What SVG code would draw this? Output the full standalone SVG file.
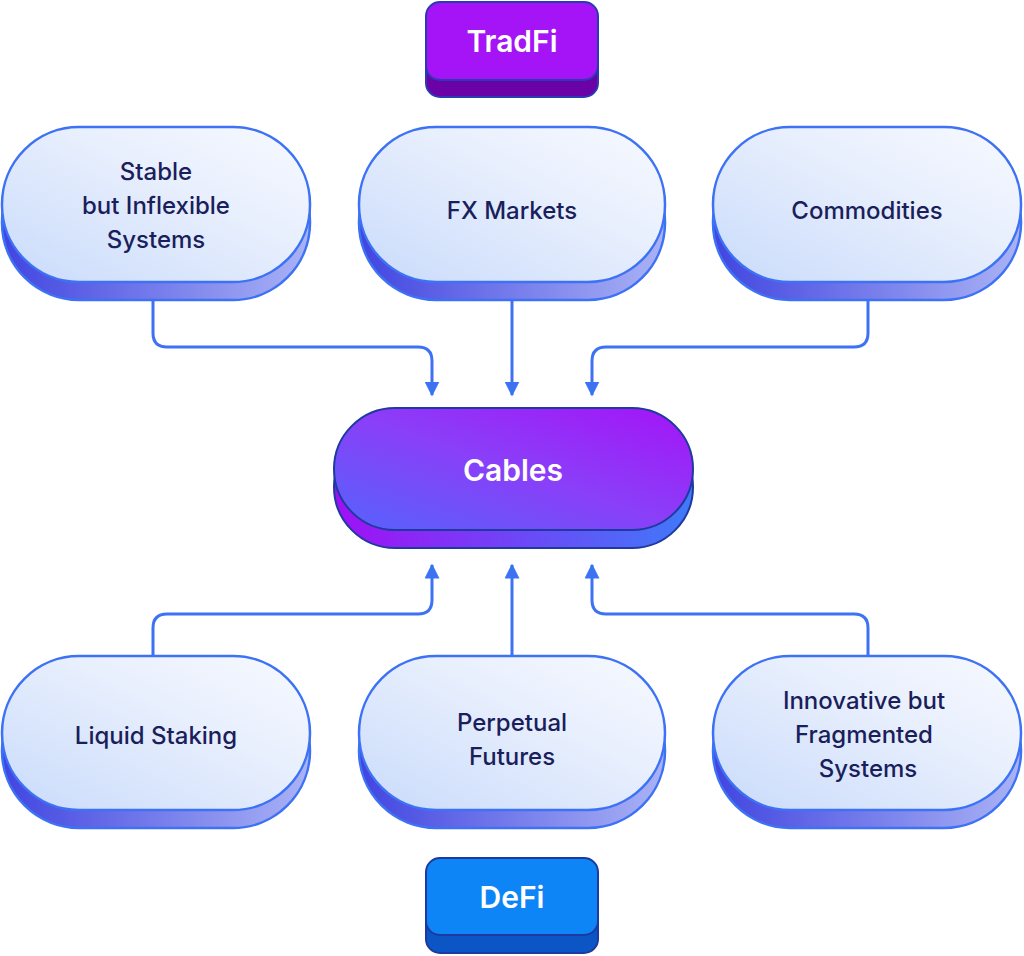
<svg xmlns="http://www.w3.org/2000/svg" width="1024" height="956" viewBox="0 0 1024 956">
<defs>
<linearGradient id="face" x1="0" y1="1" x2="1" y2="0"><stop offset="0" stop-color="#c9dbfb"/><stop offset="0.6" stop-color="#e8effd"/><stop offset="1" stop-color="#f7f9ff"/></linearGradient>
<linearGradient id="base" x1="0" y1="0" x2="1" y2="0"><stop offset="0" stop-color="#4145e0"/><stop offset="1" stop-color="#aab3f5"/></linearGradient>
<linearGradient id="cface" x1="0" y1="1" x2="1" y2="0"><stop offset="0" stop-color="#5563fb"/><stop offset="0.5" stop-color="#8a3ff8"/><stop offset="1" stop-color="#a414f7"/></linearGradient>
<linearGradient id="cbase" x1="0" y1="0" x2="1" y2="0"><stop offset="0" stop-color="#a010f5"/><stop offset="1" stop-color="#3f7af8"/></linearGradient>
<marker id="ah" viewBox="0 0 10 10" refX="9" refY="5" markerWidth="5" markerHeight="5" orient="auto"><path d="M0,0 L10,5 L0,10 z" fill="#3d72f5"/></marker>
<style>
.f{fill:url(#face);stroke:#3d72f5;stroke-width:2.5}
.b{fill:url(#base);stroke:#3d72f5;stroke-width:2.5}
.t{font-family:Inter,"Liberation Sans",sans-serif;font-size:24px;fill:#1a1f5c;text-anchor:middle;font-weight:500}
.w{font-family:Inter,"Liberation Sans",sans-serif;font-size:30px;fill:#fff;text-anchor:middle;font-weight:600}
.c{fill:none;stroke:#3d72f5;stroke-width:3;marker-end:url(#ah)}
</style>
</defs>
<g id="tradfi">
<rect x="426" y="18" width="172" height="79" rx="14" fill="#6a02a8" stroke="#2a3ab0" stroke-width="2"/>
<rect x="426" y="2" width="172" height="78" rx="14" fill="#a414f7" stroke="#2a3ab0" stroke-width="2"/>
<text class="w" x="512" y="52">TradFi</text>
</g>
<g id="n1"><rect class="b" x="2" y="145" width="308" height="155" rx="77"/><rect class="f" x="2" y="127" width="308" height="155" rx="77"/>
<text class="t" x="156" y="180">Stable</text><text class="t" x="156" y="214">but Inflexible</text><text class="t" x="156" y="248">Systems</text></g>
<g id="n2"><rect class="b" x="359" y="145" width="306" height="155" rx="77"/><rect class="f" x="359" y="127" width="306" height="155" rx="77"/>
<text class="t" x="512" y="219">FX Markets</text></g>
<g id="n3"><rect class="b" x="713" y="145" width="308" height="155" rx="77"/><rect class="f" x="713" y="127" width="308" height="155" rx="77"/>
<text class="t" x="867" y="219">Commodities</text></g>
<g id="cables"><rect x="334" y="426" width="359" height="122" rx="61" fill="url(#cbase)" stroke="#1e3aa0" stroke-width="2"/>
<rect x="334" y="408" width="359" height="122" rx="61" fill="url(#cface)" stroke="#1e3aa0" stroke-width="2"/>
<text class="w" x="513" y="481">Cables</text></g>
<g id="n4"><rect class="b" x="2" y="674" width="308" height="154" rx="77"/><rect class="f" x="2" y="656" width="308" height="154" rx="77"/>
<text class="t" x="156" y="744">Liquid Staking</text></g>
<g id="n5"><rect class="b" x="359" y="674" width="306" height="154" rx="77"/><rect class="f" x="359" y="656" width="306" height="154" rx="77"/>
<text class="t" x="512" y="731">Perpetual</text><text class="t" x="512" y="765">Futures</text></g>
<g id="n6"><rect class="b" x="713" y="674" width="308" height="154" rx="77"/><rect class="f" x="713" y="656" width="308" height="154" rx="77"/>
<text class="t" x="864" y="709">Innovative but</text><text class="t" x="864" y="743">Fragmented</text><text class="t" x="868" y="777">Systems</text></g>
<g id="defi">
<rect x="426" y="875" width="172" height="78" rx="14" fill="#0b56c4" stroke="#1e3aa0" stroke-width="2"/>
<rect x="426" y="858" width="172" height="77" rx="14" fill="#0d85f7" stroke="#1e3aa0" stroke-width="2"/>
<text class="w" x="512" y="908">DeFi</text>
</g>
<g id="connectors">
<path class="c" d="M153,300 V333 Q153,347 167,347 H418 Q432,347 432,361 V395"/>
<path class="c" d="M512,300 V395"/>
<path class="c" d="M868,300 V333 Q868,347 854,347 H606 Q592,347 592,361 V395"/>
<path class="c" d="M153,656 V628 Q153,614 167,614 H418 Q432,614 432,600 V565"/>
<path class="c" d="M512,656 V565"/>
<path class="c" d="M868,656 V628 Q868,614 854,614 H606 Q592,614 592,600 V565"/>
</g>
</svg>
